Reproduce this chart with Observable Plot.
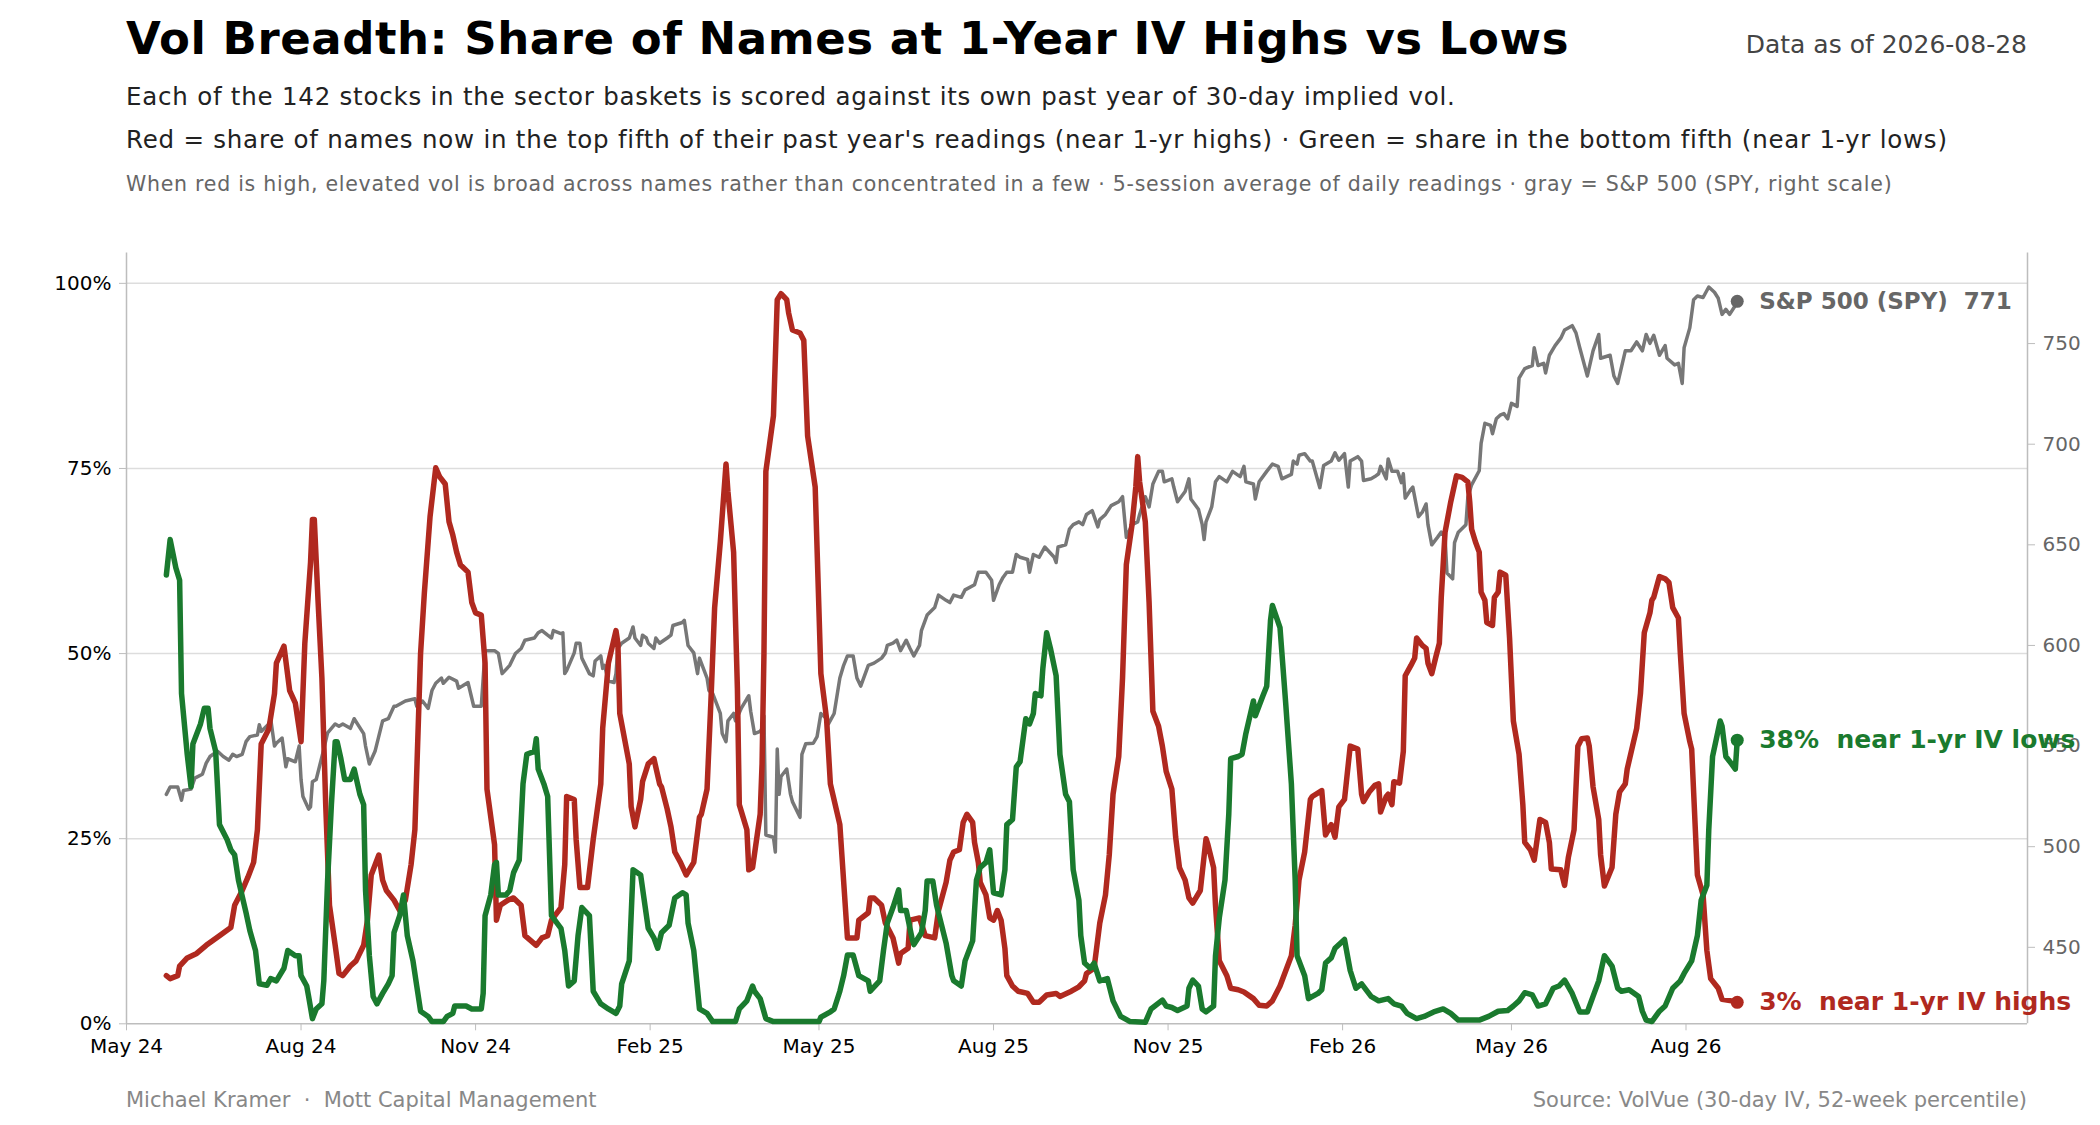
<!DOCTYPE html>
<html><head><meta charset="utf-8">
<script src="https://cdn.jsdelivr.net/npm/d3@7"></script>
<script src="https://cdn.jsdelivr.net/npm/@observablehq/plot@0.6"></script>
<style>
html,body{margin:0;padding:0;background:#fff;}
body{width:2100px;height:1125px;position:relative;overflow:hidden;font-family:"DejaVu Sans",sans-serif;}
.t{position:absolute;white-space:pre;line-height:1;}
#chart{position:absolute;left:0;top:230px;}
#chart svg text{white-space:pre;}
</style></head><body>
<div class="t" style="left:126px;top:16px;font-size:45px;font-weight:bold;color:#000;letter-spacing:0.55px">Vol Breadth: Share of Names at 1-Year IV Highs vs Lows</div>
<div class="t" style="right:73px;top:32px;font-size:25px;color:#444">Data as of 2026-08-28</div>
<div class="t" style="left:126px;top:85px;font-size:24.5px;color:#222;letter-spacing:0.77px">Each of the 142 stocks in the sector baskets is scored against its own past year of 30-day implied vol.</div>
<div class="t" style="left:126px;top:128px;font-size:24.5px;color:#222;letter-spacing:0.77px">Red = share of names now in the top fifth of their past year's readings (near 1-yr highs) · Green = share in the bottom fifth (near 1-yr lows)</div>
<div class="t" style="left:126px;top:174px;font-size:20.5px;color:#666;letter-spacing:0.74px">When red is high, elevated vol is broad across names rather than concentrated in a few · 5-session average of daily readings · gray = S&amp;P 500 (SPY, right scale)</div>
<div id="chart"></div>
<div class="t" style="left:126px;top:1090px;font-size:21px;color:#888">Michael Kramer  ·  Mott Capital Management</div>
<div class="t" style="right:73px;top:1090px;font-size:21px;color:#888">Source: VolVue (30-day IV, 52-week percentile)</div>
<script>
// ---- data ----
const xTickDates = ["2024-05-01","2024-08-01","2024-11-01","2025-02-01","2025-05-01","2025-08-01","2025-11-01","2026-02-01","2026-05-01","2026-08-01"];
const pctTicks = [0, 25, 50, 75, 100];
const spyTicks = [450, 500, 550, 600, 650, 700, 750];

// share of names near 1-yr IV highs (%)
const highsShare = [
["2024-05-22",6.5],["2024-05-24",6.1],["2024-05-28",6.5],["2024-05-29",7.8],["2024-06-02",8.9],["2024-06-07",9.5],["2024-06-12",10.6],["2024-06-19",11.9],["2024-06-25",13.0],["2024-06-27",16.0],
["2024-07-01",18.0],["2024-07-04",19.8],["2024-07-07",21.8],["2024-07-09",26.2],["2024-07-11",37.8],["2024-07-15",39.8],["2024-07-18",44.6],["2024-07-19",48.7],["2024-07-23",51.0],["2024-07-26",45.0],
["2024-07-29",43.3],["2024-08-01",38.1],["2024-08-03",51.4],["2024-08-06",62.3],["2024-08-07",68.1],["2024-08-08",68.1],["2024-08-10",56.9],["2024-08-12",46.7],["2024-08-14",29.6],["2024-08-16",16.0],
["2024-08-19",10.6],["2024-08-21",6.8],["2024-08-23",6.5],["2024-08-27",7.8],["2024-08-30",8.5],["2024-09-03",10.6],["2024-09-05",14.0],["2024-09-07",20.1],["2024-09-11",22.8],["2024-09-13",19.4],
["2024-09-15",18.0],["2024-09-19",16.7],["2024-09-22",15.3],["2024-09-25",16.7],["2024-09-28",21.5],["2024-09-30",26.2],["2024-10-03",50.0],["2024-10-05",58.2],["2024-10-08",68.5],["2024-10-11",75.1],
["2024-10-13",73.9],["2024-10-16",72.9],["2024-10-18",67.8],["2024-10-20",66.0],["2024-10-22",63.7],["2024-10-24",62.0],["2024-10-28",61.0],["2024-10-30",56.9],["2024-11-01",55.5],["2024-11-04",55.2],
["2024-11-06",48.7],["2024-11-07",31.7],["2024-11-11",24.2],["2024-11-12",14.0],["2024-11-14",16.0],["2024-11-18",16.7],["2024-11-21",17.0],["2024-11-25",16.0],["2024-11-27",11.9],["2024-12-03",10.6],
["2024-12-06",11.6],["2024-12-09",11.9],["2024-12-11",14.0],["2024-12-16",15.7],["2024-12-18",21.5],["2024-12-19",30.7],["2024-12-23",30.3],["2024-12-24",24.9],["2024-12-26",18.4],["2024-12-30",18.4],
["2025-01-02",24.9],["2025-01-06",32.4],["2025-01-07",39.9],["2025-01-10",48.7],["2025-01-14",53.1],["2025-01-15",51.4],["2025-01-16",41.9],["2025-01-21",35.1],["2025-01-22",29.3],["2025-01-24",26.6],
["2025-01-27",30.3],["2025-01-28",32.7],["2025-01-31",35.1],["2025-02-03",35.8],["2025-02-06",32.4],["2025-02-07",32.0],["2025-02-10",29.0],["2025-02-12",26.6],["2025-02-14",23.2],["2025-02-17",21.8],
["2025-02-20",20.1],["2025-02-24",21.8],["2025-02-27",27.9],["2025-02-28",28.3],["2025-03-03",31.7],["2025-03-05",43.3],["2025-03-07",56.2],["2025-03-10",65.1],["2025-03-13",75.6],["2025-03-14",71.9],
["2025-03-17",63.7],["2025-03-19",45.3],["2025-03-20",29.6],["2025-03-24",26.2],["2025-03-25",20.8],["2025-03-27",21.1],["2025-03-31",28.3],["2025-04-01",35.1],["2025-04-02",50.0],["2025-04-03",74.6],
["2025-04-07",82.1],["2025-04-09",97.8],["2025-04-11",98.6],["2025-04-14",97.8],["2025-04-15",96.0],["2025-04-17",93.7],["2025-04-21",93.3],["2025-04-23",92.3],["2025-04-25",79.4],["2025-04-29",72.5],
["2025-05-02",47.3],["2025-05-05",41.2],["2025-05-07",32.4],["2025-05-12",26.9],["2025-05-16",11.6],["2025-05-21",11.6],["2025-05-22",14.0],["2025-05-27",15.0],["2025-05-28",17.0],["2025-05-30",17.0],
["2025-06-03",16.0],["2025-06-05",13.6],["2025-06-09",11.6],["2025-06-12",8.2],["2025-06-13",9.5],["2025-06-17",10.2],["2025-06-18",14.0],["2025-06-23",14.3],["2025-06-26",11.9],["2025-07-01",11.6],
["2025-07-03",15.3],["2025-07-07",19.1],["2025-07-09",22.1],["2025-07-11",23.2],["2025-07-14",23.5],["2025-07-16",27.2],["2025-07-18",28.3],["2025-07-21",27.2],["2025-07-22",24.5],["2025-07-24",21.8],
["2025-07-25",19.1],["2025-07-28",17.4],["2025-07-30",14.3],["2025-08-01",14.0],["2025-08-03",15.3],["2025-08-05",14.0],["2025-08-07",10.2],["2025-08-08",6.5],["2025-08-11",5.1],["2025-08-14",4.4],
["2025-08-19",4.1],["2025-08-22",2.9],["2025-08-25",2.9],["2025-08-29",3.9],["2025-09-03",4.1],["2025-09-05",3.7],["2025-09-11",4.4],["2025-09-15",5.0],["2025-09-18",5.8],["2025-09-19",6.8],
["2025-09-23",7.5],["2025-09-26",13.6],["2025-09-29",17.4],["2025-10-01",22.8],["2025-10-03",31.0],["2025-10-06",36.1],["2025-10-08",46.7],["2025-10-10",62.0],["2025-10-13",67.4],["2025-10-15",72.5],
["2025-10-16",76.6],["2025-10-17",73.2],["2025-10-20",67.8],["2025-10-22",56.9],["2025-10-24",42.2],["2025-10-27",40.2],["2025-10-29",37.5],["2025-10-31",34.1],["2025-11-03",31.7],["2025-11-05",25.2],
["2025-11-07",21.1],["2025-11-10",19.4],["2025-11-12",17.0],["2025-11-14",16.3],["2025-11-18",18.0],["2025-11-21",25.0],["2025-11-22",24.2],["2025-11-25",21.1],["2025-11-26",16.0],["2025-11-28",8.5],
["2025-12-02",6.5],["2025-12-04",4.8],["2025-12-08",4.6],["2025-12-11",4.3],["2025-12-16",3.4],["2025-12-19",2.5],["2025-12-23",2.4],["2025-12-26",3.1],["2025-12-30",5.1],["2026-01-05",9.2],
["2026-01-07",13.3],["2026-01-09",19.4],["2026-01-12",23.2],["2026-01-15",30.3],["2026-01-16",30.7],["2026-01-21",31.5],["2026-01-23",25.5],["2026-01-26",26.9],["2026-01-28",25.2],["2026-01-30",29.3],
["2026-02-02",30.3],["2026-02-05",37.5],["2026-02-09",37.1],["2026-02-11",31.0],["2026-02-12",30.0],["2026-02-15",31.3],["2026-02-18",32.2],["2026-02-20",32.4],["2026-02-21",28.6],["2026-02-24",30.7],
["2026-02-25",31.0],["2026-02-27",29.6],["2026-02-28",32.7],["2026-03-03",32.5],["2026-03-05",36.8],["2026-03-06",47.0],["2026-03-09",48.4],["2026-03-11",49.4],["2026-03-12",52.1],["2026-03-15",51.1],
["2026-03-17",50.7],["2026-03-18",48.7],["2026-03-20",47.3],["2026-03-22",49.4],["2026-03-24",51.4],["2026-03-25",57.6],["2026-03-27",66.4],["2026-03-30",70.5],["2026-04-02",74.0],["2026-04-05",73.8],
["2026-04-08",73.2],["2026-04-09",70.5],["2026-04-10",66.8],["2026-04-12",65.1],["2026-04-14",63.7],["2026-04-15",58.3],["2026-04-17",57.2],["2026-04-18",54.2],["2026-04-21",53.8],["2026-04-22",57.6],
["2026-04-24",58.3],["2026-04-25",61.0],["2026-04-28",60.6],["2026-04-30",52.1],["2026-05-02",40.9],["2026-05-05",36.4],["2026-05-07",29.6],["2026-05-08",24.5],["2026-05-11",23.5],["2026-05-13",22.1],
["2026-05-16",27.6],["2026-05-19",27.2],["2026-05-21",24.5],["2026-05-22",20.9],["2026-05-27",20.8],["2026-05-29",18.7],["2026-05-31",22.5],["2026-06-03",26.2],["2026-06-05",37.5],["2026-06-07",38.5],
["2026-06-10",38.6],["2026-06-11",37.5],["2026-06-13",32.0],["2026-06-16",27.6],["2026-06-17",22.8],["2026-06-19",18.6],["2026-06-23",21.1],["2026-06-25",28.3],["2026-06-27",31.3],["2026-06-30",32.4],
["2026-07-01",34.4],["2026-07-06",39.9],["2026-07-08",44.6],["2026-07-10",52.8],["2026-07-13",55.5],["2026-07-14",57.2],["2026-07-15",57.6],["2026-07-18",60.4],["2026-07-21",60.1],["2026-07-23",59.6],
["2026-07-25",56.2],["2026-07-28",54.8],["2026-07-29",50.1],["2026-07-31",41.9],["2026-08-03",38.1],["2026-08-04",37.1],["2026-08-07",20.1],["2026-08-10",17.4],["2026-08-12",9.9],["2026-08-14",6.1],
["2026-08-18",4.8],["2026-08-20",3.3],["2026-08-25",3.1],["2026-08-28",2.9]
];

// share of names near 1-yr IV lows (%)
const lowsShare = [
["2024-05-22",60.6],["2024-05-24",65.4],["2024-05-27",61.6],["2024-05-29",59.9],["2024-05-30",44.6],["2024-06-02",36.4],["2024-06-04",32.0],["2024-06-05",37.8],["2024-06-09",40.5],["2024-06-11",42.6],
["2024-06-13",42.6],["2024-06-14",39.9],["2024-06-17",36.8],["2024-06-19",26.9],["2024-06-23",24.9],["2024-06-25",23.5],["2024-06-27",22.8],["2024-06-29",19.4],["2024-07-03",15.0],["2024-07-05",12.6],
["2024-07-08",9.9],["2024-07-10",5.4],["2024-07-14",5.2],["2024-07-16",6.1],["2024-07-19",5.8],["2024-07-23",7.5],["2024-07-25",9.9],["2024-07-29",9.2],["2024-07-31",9.2],["2024-08-01",6.5],
["2024-08-04",5.1],["2024-08-05",3.7],["2024-08-07",0.7],["2024-08-09",2.0],["2024-08-12",2.7],["2024-08-13",5.8],["2024-08-15",19.4],["2024-08-17",29.6],["2024-08-19",38.1],["2024-08-20",38.1],
["2024-08-22",35.8],["2024-08-24",33.0],["2024-08-27",33.0],["2024-08-29",34.4],["2024-09-01",31.0],["2024-09-03",29.6],["2024-09-04",18.0],["2024-09-06",9.2],["2024-09-08",3.7],["2024-09-10",2.7],
["2024-09-13",4.1],["2024-09-16",5.4],["2024-09-18",6.5],["2024-09-19",12.3],["2024-09-22",14.6],["2024-09-24",17.4],["2024-09-26",11.9],["2024-09-29",8.5],["2024-10-01",5.1],["2024-10-03",1.7],
["2024-10-07",1.0],["2024-10-09",0.3],["2024-10-15",0.3],["2024-10-17",1.0],["2024-10-20",1.4],["2024-10-21",2.4],["2024-10-27",2.4],["2024-10-30",2.0],["2024-11-04",2.0],["2024-11-05",4.1],
["2024-11-06",14.6],["2024-11-09",17.4],["2024-11-11",21.5],["2024-11-12",21.8],["2024-11-13",17.4],["2024-11-17",17.4],["2024-11-19",18.0],["2024-11-21",20.4],["2024-11-24",22.1],["2024-11-26",32.4],
["2024-11-28",36.4],["2024-12-02",36.8],["2024-12-03",38.5],["2024-12-04",34.4],["2024-12-07",32.4],["2024-12-09",30.7],["2024-12-11",14.6],["2024-12-16",12.9],["2024-12-18",9.9],["2024-12-20",5.1],
["2024-12-23",5.8],["2024-12-25",11.9],["2024-12-27",15.7],["2024-12-31",14.6],["2025-01-02",4.4],["2025-01-06",2.7],["2025-01-10",2.0],["2025-01-14",1.4],["2025-01-16",2.4],["2025-01-17",5.4],
["2025-01-21",8.5],["2025-01-23",20.8],["2025-01-27",20.1],["2025-01-31",12.9],["2025-02-03",11.6],["2025-02-05",10.2],["2025-02-07",12.3],["2025-02-11",13.3],["2025-02-14",17.0],["2025-02-18",17.7],
["2025-02-20",17.4],["2025-02-21",13.6],["2025-02-24",9.9],["2025-02-27",2.0],["2025-03-03",1.4],["2025-03-06",0.3],["2025-03-18",0.3],["2025-03-20",2.0],["2025-03-24",3.1],["2025-03-27",5.1],
["2025-03-28",4.4],["2025-03-31",3.4],["2025-04-03",0.7],["2025-04-07",0.3],["2025-05-01",0.3],["2025-05-02",0.9],["2025-05-07",1.6],["2025-05-09",2.0],["2025-05-12",4.4],["2025-05-14",6.5],
["2025-05-16",9.3],["2025-05-19",9.3],["2025-05-22",6.5],["2025-05-27",5.8],["2025-05-28",4.4],["2025-06-02",5.8],["2025-06-04",9.9],["2025-06-06",13.6],["2025-06-09",15.7],["2025-06-12",18.1],
["2025-06-13",15.3],["2025-06-16",15.3],["2025-06-19",11.6],["2025-06-20",10.7],["2025-06-24",12.3],["2025-06-26",15.3],["2025-06-27",19.3],["2025-06-30",19.3],["2025-07-02",16.0],["2025-07-07",10.9],
["2025-07-10",6.5],["2025-07-11",5.8],["2025-07-15",5.1],["2025-07-17",8.5],["2025-07-21",11.2],["2025-07-23",19.4],["2025-07-25",21.1],["2025-07-28",21.8],["2025-07-30",23.5],["2025-08-01",17.7],
["2025-08-05",17.4],["2025-08-07",20.8],["2025-08-08",26.9],["2025-08-11",27.6],["2025-08-13",34.7],["2025-08-15",35.4],["2025-08-18",41.2],["2025-08-20",40.5],["2025-08-22",41.9],["2025-08-23",44.6],
["2025-08-26",44.3],["2025-08-27",48.0],["2025-08-29",52.8],["2025-08-31",50.7],["2025-09-03",47.0],["2025-09-05",36.4],["2025-09-08",31.0],["2025-09-10",30.0],["2025-09-12",20.8],["2025-09-15",16.7],
["2025-09-16",11.9],["2025-09-18",8.2],["2025-09-21",7.5],["2025-09-23",8.2],["2025-09-26",5.8],["2025-09-30",6.1],["2025-10-03",3.1],["2025-10-07",1.0],["2025-10-12",0.3],["2025-10-20",0.2],
["2025-10-23",2.0],["2025-10-29",3.2],["2025-10-31",2.4],["2025-11-03",2.2],["2025-11-06",1.8],["2025-11-11",2.4],["2025-11-12",4.8],["2025-11-14",5.9],["2025-11-17",5.1],["2025-11-19",2.0],
["2025-11-21",1.6],["2025-11-25",2.4],["2025-11-26",9.2],["2025-11-28",14.3],["2025-12-01",19.4],["2025-12-03",28.3],["2025-12-04",35.8],["2025-12-08",36.1],["2025-12-10",36.4],["2025-12-12",39.2],
["2025-12-16",43.6],["2025-12-17",41.6],["2025-12-21",44.3],["2025-12-23",45.6],["2025-12-25",54.5],["2025-12-26",56.5],["2025-12-30",53.5],["2026-01-02",43.3],["2026-01-05",32.4],["2026-01-07",19.4],
["2026-01-08",9.2],["2026-01-12",6.5],["2026-01-14",3.4],["2026-01-19",4.1],["2026-01-21",4.6],["2026-01-23",8.2],["2026-01-26",8.9],["2026-01-28",10.2],["2026-02-02",11.4],["2026-02-05",7.2],
["2026-02-08",4.8],["2026-02-11",5.4],["2026-02-16",3.7],["2026-02-20",3.1],["2026-02-25",3.4],["2026-02-28",2.7],["2026-03-04",2.4],["2026-03-07",1.4],["2026-03-12",0.7],["2026-03-16",1.0],
["2026-03-21",1.6],["2026-03-26",2.0],["2026-03-30",1.4],["2026-04-03",0.5],["2026-04-14",0.5],["2026-04-19",1.0],["2026-04-24",1.7],["2026-04-29",1.8],["2026-05-02",2.4],["2026-05-05",3.1],
["2026-05-08",4.2],["2026-05-12",3.9],["2026-05-15",2.4],["2026-05-19",2.7],["2026-05-23",4.8],["2026-05-26",5.1],["2026-05-29",5.9],["2026-06-02",4.1],["2026-06-06",1.6],["2026-06-10",1.6],
["2026-06-13",3.7],["2026-06-16",5.8],["2026-06-19",9.2],["2026-06-23",7.8],["2026-06-26",4.8],["2026-06-28",4.4],["2026-07-02",4.6],["2026-07-07",3.7],["2026-07-09",1.7],["2026-07-11",0.5],
["2026-07-14",0.3],["2026-07-18",1.7],["2026-07-21",2.4],["2026-07-25",4.8],["2026-07-29",5.8],["2026-07-31",6.8],["2026-08-04",8.5],["2026-08-07",11.9],["2026-08-09",16.7],["2026-08-12",18.7],
["2026-08-13",26.2],["2026-08-15",36.1],["2026-08-17",38.5],["2026-08-19",40.9],["2026-08-20",40.2],["2026-08-22",36.1],["2026-08-25",35.1],["2026-08-27",34.4],["2026-08-28",38.3]
];

// S&P 500 (SPY) price, right scale
const spyPrice = [
["2024-05-22",526.0],["2024-05-24",529.7],["2024-05-28",529.7],["2024-05-30",523.1],["2024-05-31",527.9],["2024-06-04",528.6],["2024-06-06",534.1],["2024-06-10",536.0],["2024-06-12",541.5],["2024-06-14",544.8],
["2024-06-18",547.4],["2024-06-21",544.8],["2024-06-24",543.0],["2024-06-26",545.9],["2024-06-28",544.8],["2024-07-01",545.9],["2024-07-03",552.2],["2024-07-05",554.7],["2024-07-09",555.5],["2024-07-10",560.6],
["2024-07-11",557.3],["2024-07-15",561.0],["2024-07-16",563.6],["2024-07-18",550.0],["2024-07-19",551.4],["2024-07-22",554.0],["2024-07-24",539.7],["2024-07-25",543.7],["2024-07-29",542.2],["2024-07-31",550.0],
["2024-08-01",533.4],["2024-08-02",524.9],["2024-08-05",518.7],["2024-08-06",519.8],["2024-08-07",532.3],["2024-08-09",533.4],["2024-08-13",548.5],["2024-08-15",556.6],["2024-08-19",561.0],["2024-08-21",559.9],
["2024-08-23",561.0],["2024-08-27",558.8],["2024-08-29",563.6],["2024-09-03",556.2],["2024-09-04",550.0],["2024-09-06",541.1],["2024-09-09",547.4],["2024-09-13",562.5],["2024-09-16",563.6],["2024-09-19",569.8],
["2024-09-20",569.8],["2024-09-25",572.4],["2024-09-30",573.5],["2024-10-01",569.8],["2024-10-04",572.4],["2024-10-07",568.7],["2024-10-09",577.6],["2024-10-11",581.2],["2024-10-14",583.8],["2024-10-15",581.2],
["2024-10-18",584.2],["2024-10-22",582.3],["2024-10-23",578.7],["2024-10-25",579.8],["2024-10-28",581.6],["2024-10-31",569.8],["2024-11-04",569.8],["2024-11-06",597.4],["2024-11-11",597.4],["2024-11-13",596.0],
["2024-11-15",586.0],["2024-11-19",590.1],["2024-11-22",596.0],["2024-11-25",598.5],["2024-11-27",602.6],["2024-12-02",603.7],["2024-12-04",606.3],["2024-12-06",607.4],["2024-12-09",605.1],["2024-12-11",603.7],
["2024-12-12",607.4],["2024-12-16",605.9],["2024-12-17",606.3],["2024-12-18",586.0],["2024-12-19",587.5],["2024-12-23",596.3],["2024-12-24",601.1],["2024-12-26",601.1],["2024-12-27",593.7],["2024-12-31",586.0],
["2025-01-02",584.9],["2025-01-03",592.3],["2025-01-06",594.8],["2025-01-07",588.6],["2025-01-08",590.1],["2025-01-10",582.3],["2025-01-13",581.6],["2025-01-14",586.0],["2025-01-15",598.5],["2025-01-17",601.1],
["2025-01-21",603.7],["2025-01-23",609.2],["2025-01-24",603.7],["2025-01-27",600.0],["2025-01-28",605.1],["2025-01-30",603.7],["2025-01-31",601.1],["2025-02-03",598.5],["2025-02-04",603.7],["2025-02-06",601.1],
["2025-02-10",603.7],["2025-02-12",605.1],["2025-02-13",609.9],["2025-02-18",611.4],["2025-02-19",612.5],["2025-02-21",600.0],["2025-02-24",596.3],["2025-02-26",586.0],["2025-02-27",593.7],["2025-03-03",583.8],
["2025-03-04",577.6],["2025-03-06",576.1],["2025-03-10",566.2],["2025-03-11",556.2],["2025-03-13",552.2],["2025-03-14",562.5],["2025-03-17",566.2],["2025-03-18",562.5],["2025-03-21",568.7],["2025-03-24",573.5],
["2025-03-25",575.0],["2025-03-26",567.3],["2025-03-28",556.2],["2025-03-31",557.3],["2025-04-01",558.8],["2025-04-02",565.0],["2025-04-03",505.8],["2025-04-07",504.7],["2025-04-08",497.4],["2025-04-09",548.5],
["2025-04-10",526.0],["2025-04-11",534.9],["2025-04-14",538.6],["2025-04-16",526.0],["2025-04-17",522.4],["2025-04-21",514.6],["2025-04-22",545.9],["2025-04-24",551.1],["2025-04-28",551.4],["2025-04-30",554.7],
["2025-05-02",566.2],["2025-05-05",563.6],["2025-05-06",561.0],["2025-05-09",566.2],["2025-05-12",583.8],["2025-05-14",590.1],["2025-05-16",594.8],["2025-05-19",594.8],["2025-05-21",583.8],["2025-05-23",579.8],
["2025-05-27",590.1],["2025-05-30",591.2],["2025-06-03",593.7],["2025-06-05",596.3],["2025-06-06",600.0],["2025-06-09",601.1],["2025-06-11",602.6],["2025-06-13",597.4],["2025-06-16",602.6],["2025-06-18",598.5],
["2025-06-20",594.8],["2025-06-23",600.0],["2025-06-24",607.4],["2025-06-27",615.1],["2025-07-01",618.8],["2025-07-03",625.0],["2025-07-07",622.4],["2025-07-09",621.3],["2025-07-11",625.0],["2025-07-15",623.9],
["2025-07-17",627.6],["2025-07-22",630.2],["2025-07-24",636.4],["2025-07-28",636.4],["2025-07-31",632.4],["2025-08-01",622.4],["2025-08-04",630.2],["2025-08-06",633.8],["2025-08-08",636.4],["2025-08-11",636.4],
["2025-08-13",645.2],["2025-08-15",643.8],["2025-08-19",642.7],["2025-08-20",636.4],["2025-08-22",645.2],["2025-08-25",643.8],["2025-08-28",648.9],["2025-09-02",643.8],["2025-09-03",641.2],["2025-09-04",648.9],
["2025-09-08",650.0],["2025-09-10",657.8],["2025-09-12",660.0],["2025-09-15",661.4],["2025-09-17",660.0],["2025-09-19",665.1],["2025-09-22",667.0],["2025-09-25",658.9],["2025-09-26",662.5],["2025-09-29",665.1],
["2025-10-02",669.5],["2025-10-06",671.4],["2025-10-08",673.9],["2025-10-10",653.7],["2025-10-13",660.0],["2025-10-16",661.4],["2025-10-17",665.1],["2025-10-20",673.9],["2025-10-22",668.8],["2025-10-24",680.2],
["2025-10-27",686.5],["2025-10-29",686.5],["2025-10-30",681.3],["2025-11-03",682.8],["2025-11-04",678.7],["2025-11-06",671.4],["2025-11-10",676.5],["2025-11-12",682.8],["2025-11-13",672.8],["2025-11-17",667.7],
["2025-11-19",660.0],["2025-11-20",652.6],["2025-11-21",661.4],["2025-11-24",668.8],["2025-11-26",681.3],["2025-11-28",683.9],["2025-12-02",681.3],["2025-12-05",686.5],["2025-12-09",683.9],["2025-12-11",689.0],
["2025-12-12",681.3],["2025-12-16",680.2],["2025-12-17",672.8],["2025-12-19",681.3],["2025-12-23",686.5],["2025-12-26",690.1],["2025-12-29",689.0],["2025-12-31",682.8],["2026-01-05",685.0],["2026-01-06",691.6],
["2026-01-08",690.1],["2026-01-09",694.5],["2026-01-12",695.3],["2026-01-15",691.6],["2026-01-16",691.6],["2026-01-20",678.4],["2026-01-22",689.4],["2026-01-26",691.6],["2026-01-28",695.7],["2026-01-30",692.0],
["2026-02-02",695.3],["2026-02-04",678.7],["2026-02-05",691.6],["2026-02-09",693.8],["2026-02-11",691.6],["2026-02-12",682.0],["2026-02-16",682.8],["2026-02-18",683.9],["2026-02-20",685.3],["2026-02-21",689.0],
["2026-02-24",682.8],["2026-02-25",692.7],["2026-02-27",686.5],["2026-03-02",686.5],["2026-03-04",680.9],["2026-03-05",685.3],["2026-03-06",673.2],["2026-03-09",677.6],["2026-03-10",678.7],["2026-03-13",664.0],
["2026-03-15",666.2],["2026-03-17",670.3],["2026-03-18",660.0],["2026-03-20",650.0],["2026-03-23",653.7],["2026-03-25",656.3],["2026-03-27",653.7],["2026-03-28",636.0],["2026-03-31",633.1],["2026-04-01",651.1],
["2026-04-03",656.3],["2026-04-07",660.0],["2026-04-08",673.6],["2026-04-10",679.8],["2026-04-14",686.8],["2026-04-15",700.4],["2026-04-17",710.4],["2026-04-20",709.3],["2026-04-21",705.2],["2026-04-23",712.6],
["2026-04-25",714.4],["2026-04-27",715.2],["2026-04-29",712.6],["2026-05-01",720.3],["2026-05-04",718.8],["2026-05-05",732.8],["2026-05-08",737.6],["2026-05-12",739.1],["2026-05-13",747.9],["2026-05-15",739.1],
["2026-05-18",740.2],["2026-05-19",735.4],["2026-05-21",744.2],["2026-05-24",749.0],["2026-05-27",752.7],["2026-05-29",756.7],["2026-06-02",758.9],["2026-06-04",755.3],["2026-06-06",747.9],["2026-06-10",733.9],
["2026-06-13",746.4],["2026-06-16",754.5],["2026-06-17",742.7],["2026-06-22",744.2],["2026-06-24",733.9],["2026-06-26",730.2],["2026-06-30",746.4],["2026-07-03",746.4],["2026-07-06",750.8],["2026-07-09",746.4],
["2026-07-11",754.5],["2026-07-13",750.1],["2026-07-15",754.1],["2026-07-18",744.2],["2026-07-21",749.0],["2026-07-22",742.7],["2026-07-26",739.4],["2026-07-28",740.2],["2026-07-30",730.2],["2026-07-31",747.9],
["2026-08-03",757.8],["2026-08-05",771.8],["2026-08-07",773.6],["2026-08-10",772.9],["2026-08-13",778.1],["2026-08-16",775.5],["2026-08-18",772.5],["2026-08-20",764.5],["2026-08-22",767.0],["2026-08-24",764.5],
["2026-08-27",768.9],["2026-08-28",771.0]
];

// ---- presentation ----
const parse = d3.utcParse("%Y-%m-%d");
const yTop = 104.1, spyLo = 412, spyHi = 795;
const spyToY = v => (v - spyLo) / (spyHi - spyLo) * yTop;
const yToSpy = y => spyLo + y / yTop * (spyHi - spyLo);
const toRows = arr => arr.map(([d, v]) => ({date: parse(d), value: v}));
const red = toRows(highsShare), green = toRows(lowsShare), spy = toRows(spyPrice);
const lastR = red[red.length - 1], lastG = green[green.length - 1], lastS = spy[spy.length - 1];
const RED = "#b0291f", GREEN = "#1a7a2e", GRAY = "#777777";
const xDomain = [parse("2024-05-01"), parse("2027-01-28")];

const chart = Plot.plot({
  width: 2100, height: 895,
  marginLeft: 126, marginRight: 73, marginTop: 22.5, marginBottom: 101.7,
  style: {fontFamily: '"DejaVu Sans", sans-serif', fontSize: "20px", background: "white", color: "#000", overflow: "visible"},
  x: {type: "utc", domain: xDomain},
  y: {domain: [0, yTop]},
  marks: [
    Plot.ruleY(pctTicks.filter(d => d > 0), {stroke: "#dddddd", strokeWidth: 1.5}),
    Plot.ruleX(xDomain, {stroke: "#bdbdbd", strokeWidth: 1.5}),
    Plot.ruleY([0], {stroke: "#bdbdbd", strokeWidth: 1.5}),
    Plot.axisX({ticks: xTickDates.map(parse), tickFormat: d3.utcFormat("%b %y"), tickSize: 7, tickPadding: 8, stroke: "#bdbdbd", fill: "#000", label: null}),
    Plot.axisY({anchor: "left", ticks: pctTicks, tickFormat: d => `${d}%`, tickSize: 7, tickPadding: 8, stroke: "#bdbdbd", fill: "#000", label: null}),
    Plot.axisY({anchor: "right", ticks: spyTicks.map(spyToY), tickFormat: y => String(Math.round(yToSpy(y))), tickSize: 7, tickPadding: 8, stroke: "#bdbdbd", fill: "#666", label: null}),
    Plot.line(spy, {x: "date", y: d => spyToY(d.value), stroke: GRAY, strokeWidth: 3.5}),
    Plot.line(red, {x: "date", y: "value", stroke: RED, strokeWidth: 5.5}),
    Plot.line(green, {x: "date", y: "value", stroke: GREEN, strokeWidth: 5.5}),
    Plot.dot([lastS], {x: "date", y: d => spyToY(d.value), r: 6.5, fill: "#666", stroke: null}),
    Plot.dot([lastG], {x: "date", y: "value", r: 6.5, fill: GREEN, stroke: null}),
    Plot.dot([lastR], {x: "date", y: "value", r: 6.5, fill: RED, stroke: null}),
    Plot.text([lastS], {x: "date", y: d => spyToY(d.value), text: d => `S&P 500 (SPY)  ${Math.round(d.value)}`, dx: 22, textAnchor: "start", fill: "#666", fontWeight: "bold", fontSize: 23}),
    Plot.text([lastG], {x: "date", y: "value", text: d => `${Math.round(d.value)}%  near 1-yr IV lows`, dx: 22, textAnchor: "start", fill: GREEN, fontWeight: "bold", fontSize: 25}),
    Plot.text([lastR], {x: "date", y: "value", text: d => `${Math.round(d.value)}%  near 1-yr IV highs`, dx: 22, textAnchor: "start", fill: RED, fontWeight: "bold", fontSize: 25})
  ]
});
document.getElementById("chart").appendChild(chart);
</script>
</body></html>
